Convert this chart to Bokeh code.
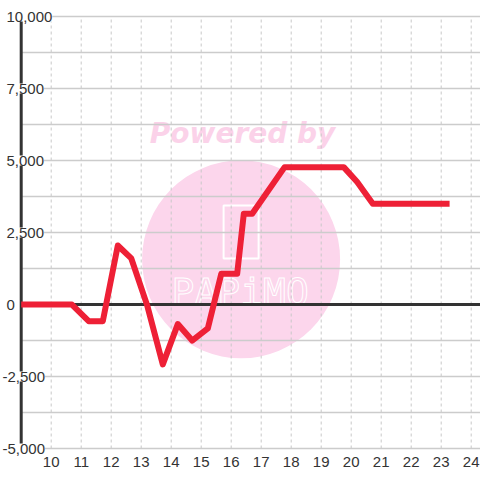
from bokeh.plotting import figure
from bokeh.models import Range1d
from bokeh.core.properties import value
from bokeh.embed import file_html
from bokeh.resources import INLINE

# ---- data ----
hours = [9.0, 10.69, 11.25, 11.72, 12.22, 12.67, 13.2, 13.72, 14.22, 14.7,
         15.22, 15.67, 16.2, 16.42, 16.7, 17.78, 19.75, 20.2, 20.72, 23.28]
balance = [0, 0, -580, -580, 2050, 1600, -30, -2080, -680, -1250,
           -830, 1070, 1070, 3150, 3150, 4770, 4770, 4250, 3500, 3500]
x_ticks = list(range(10, 25))
x_tick_labels = [str(t) for t in x_ticks]
y_label_values = [-5000, -2500, 0, 2500, 5000, 7500, 10000]
y_label_texts = ["-5,000", "-2,500", "0", "2,500", "5,000", "7,500", "10,000"]
y_grid_values = [-5000, -3750, -2500, -1250, 0, 1250, 2500, 3750,
                 5000, 6250, 7500, 8750, 10000]
x_origin = 9.0   # where the value axis sits

# ---- view / style ----
X_START, X_END = 8.31, 24.31
Y_START, Y_END = -6111, 10556
FONT = value("Liberation Sans")
TXT = "#333333"
GRID = "#cccccc"
PINK = "#fcd6ec"

p = figure(width=480, height=480, output_backend="svg", toolbar_location=None,
           x_range=Range1d(X_START, X_END), y_range=Range1d(Y_START, Y_END),
           x_axis_type=None, y_axis_type=None,
           min_border_left=0, min_border_right=0, min_border_top=0,
           min_border_bottom=0)
p.grid.visible = False
p.outline_line_color = None
p.background_fill_color = "white"
p.border_fill_color = "white"

y_lo, y_hi = min(y_grid_values), max(y_grid_values)

# ---- watermark (beneath everything) ----
p.scatter(x=[16.33], y=[1569], size=198, marker="circle",
          fill_color=PINK, line_color=None)
p.text(x=[16.38], y=[5937], text=["Powered by"], text_font=value("DejaVu Sans"),
       text_font_style="bold italic", text_font_size="28px", text_color="#fbd2e9",
       text_align="center", text_baseline="middle")
p.rect(x=[16.33], y=[2517], width=35, height=53, width_units="screen",
       height_units="screen", fill_alpha=0, line_color="white", line_width=2)
p.text(x=[16.3], y=[451], text=["PAPiMO"], text_font=value("DejaVu Sans Mono"),
       text_font_size="38px", text_color=PINK, text_outline_color="white",
       text_align="center", text_baseline="middle")

# ---- grid lines ----
p.segment(x0=x_ticks, x1=x_ticks, y0=[y_lo] * len(x_ticks), y1=[y_hi] * len(x_ticks),
          line_color="#c8c8c8", line_width=1, line_dash="3 3")
p.segment(x0=[x_origin] * len(y_grid_values), x1=[X_END] * len(y_grid_values),
          y0=y_grid_values, y1=y_grid_values, line_color=GRID, line_width=1.5)

# ---- zero line and value axis ----
p.segment(x0=[x_origin], x1=[X_END], y0=[0], y1=[0], line_color="#333333", line_width=3)
p.segment(x0=[x_origin], x1=[x_origin], y0=[y_lo], y1=[y_hi], line_color="#333333",
          line_width=3)

# ---- data line ----
p.line(hours, balance, line_color="#ee2036", line_width=6, line_join="round")

# ---- tick labels ----
p.text(x=x_ticks, y=[y_lo] * len(x_ticks), text=x_tick_labels, text_font=FONT,
       text_font_size="15px", text_color=TXT, text_align="center",
       text_baseline="middle", y_offset=13)
y_offsets = [2 if t.startswith("-") else 6 for t in y_label_texts]
p.text(x=[X_START] * len(y_label_values), y=y_label_values, text=y_label_texts,
       text_font=FONT, text_font_size="15px", text_color=TXT, text_align="left",
       text_baseline="middle", x_offset=y_offsets, background_fill_color="white")

open("out.html", "w").write(file_html(p, INLINE))
